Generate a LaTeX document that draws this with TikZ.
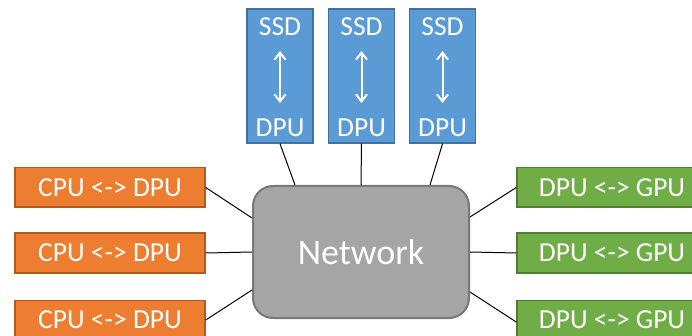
\documentclass[tikz,border=0pt]{standalone}
\usepackage{fontspec}
\setmainfont{Carlito}
\usetikzlibrary{arrows.meta,calc}
\definecolor{bfill}{HTML}{5B9BD5}\definecolor{bline}{HTML}{41719C}
\definecolor{ofill}{HTML}{ED7D31}\definecolor{oline}{HTML}{AE5A21}
\definecolor{gfill}{HTML}{70AD47}\definecolor{gline}{HTML}{507E32}
\definecolor{nfill}{HTML}{A5A5A5}\definecolor{nline}{HTML}{787878}
\tikzset{
  box/.style={draw, line width=1.5pt, minimum width=190pt, minimum height=39.5pt, inner sep=0pt, text=white, font=\fontsize{27.5}{33}\selectfont},
  cpubox/.style={box, fill=ofill, draw=oline},
  gpubox/.style={box, fill=gfill, draw=gline},
  ssdbox/.style={draw=bline, fill=bfill, line width=1.5pt, minimum width=66pt, minimum height=134pt, inner sep=0pt},
  wtext/.style={text=white, inner sep=0pt, font=\fontsize{27.5}{33}\selectfont},
  netbox/.style={draw=nline, fill=nfill, line width=2pt, rounded corners=20pt, minimum width=216pt, minimum height=132pt, text=white, font=\fontsize{36}{42}\selectfont},
  link/.style={draw=black, line width=1pt},
  biarrow/.style={draw=white, line width=2pt, {Straight Barb[length=7pt,width=11pt]}-{Straight Barb[length=7pt,width=11pt]}}
}
\begin{document}
\begin{tikzpicture}[x=1pt,y=-1pt]
\useasboundingbox (0,0) rectangle (692,336);
\clip (0,0) rectangle (692,336);
% network
\node[netbox] (net) at (361,252) {Network};
% top SSD/DPU boxes
\foreach \i/\x in {1/280,2/361.5,3/442.5}{
  \node[ssdbox] (top\i) at (\x,76) {};
  \node[wtext] (ssd\i) at (\x,27) {SSD};
  \node[wtext] (dpu\i) at (\x,127.5) {DPU};
  \coordinate (a\i) at (\x,51);
  \coordinate (b\i) at (\x,103);
  \draw[biarrow] (a\i) -- (b\i);
}
% left and right boxes
\node[cpubox] (l1) at (110,187.5) {CPU <-> DPU};
\node[cpubox] (l2) at (110,253) {CPU <-> DPU};
\node[cpubox] (l3) at (110,320) {CPU <-> DPU};
\node[gpubox] (r1) at (612,187.5) {DPU <-> GPU};
\node[gpubox] (r2) at (612,253) {DPU <-> GPU};
\node[gpubox] (r3) at (612,320) {DPU <-> GPU};
% attachment points on network
\coordinate (nt1) at ($(net.north)+(-66,0)$);
\coordinate (nt2) at (net.north);
\coordinate (nt3) at ($(net.north)+(69,0)$);
\coordinate (nl1) at ($(net.west)+(0,-34)$);
\coordinate (nl2) at (net.west);
\coordinate (nl3) at ($(net.west)+(0,38)$);
\coordinate (nr1) at ($(net.east)+(0,-35)$);
\coordinate (nr2) at (net.east);
\coordinate (nr3) at ($(net.east)+(0,40)$);
% connectors
\draw[link] (top1.south) -- (nt1);
\draw[link] (top2.south) -- (nt2);
\draw[link] (top3.south) -- (nt3);
\draw[link] (l1.east) -- (nl1);
\draw[link] (l2.east) -- (nl2);
\draw[link] (l3.east) -- (nl3);
\draw[link] (r1.west) -- (nr1);
\draw[link] (r2.west) -- (nr2);
\draw[link] ($(r3.west)+(0,2)$) -- (nr3);
\end{tikzpicture}
\end{document}
